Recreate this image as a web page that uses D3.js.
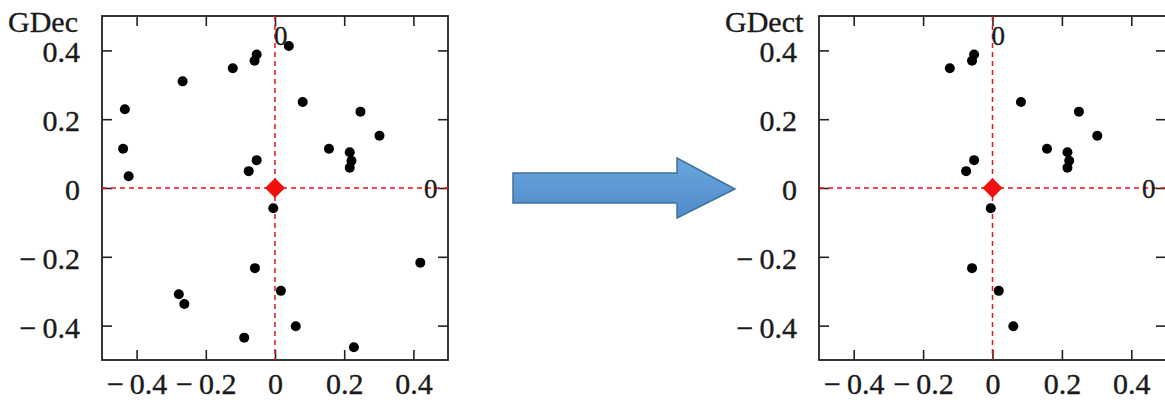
<!DOCTYPE html>
<html>
<head>
<meta charset="utf-8">
<script src="https://cdn.jsdelivr.net/npm/d3@7"></script>
<style>
  body { margin: 0; background: #fff; }
  text { font-family: "Liberation Serif", "Times New Roman", serif; fill: #1a1a1a; stroke: #1a1a1a; stroke-width: 0.35px; }
</style>
</head>
<body>
<div id="chart"></div>
<script>

// values (x, y)
var gdecX = [0.040, -0.053, -0.059, -0.122, -0.267, 0.080, -0.434, 0.247, 0.302, -0.439, 0.156, 0.216, 0.221, 0.216, -0.053, -0.076, -0.423, -0.005, 0.420, -0.058, 0.017, -0.278, -0.262, 0.060, -0.089, 0.228];
var gdecY = [0.413, 0.388, 0.370, 0.348, 0.310, 0.250, 0.229, 0.222, 0.152, 0.114, 0.114, 0.104, 0.079, 0.059, 0.081, 0.049, 0.034, -0.059, -0.217, -0.233, -0.299, -0.309, -0.337, -0.402, -0.435, -0.463];

var gdectX = [-0.123, -0.053, -0.059, 0.082, 0.249, 0.302, 0.157, 0.216, 0.221, 0.216, -0.053, -0.076, -0.005, -0.059, 0.018, 0.060];
var gdectY = [0.348, 0.388, 0.370, 0.250, 0.222, 0.152, 0.114, 0.104, 0.079, 0.059, 0.081, 0.049, -0.059, -0.233, -0.299, -0.402];

var tickVals = [-0.4, -0.2, 0, 0.2, 0.4];
var centre = [0, 0];

var svg = d3.select("#chart").append("svg")
    .attr("width", 1165)
    .attr("height", 403);

function fmt(d) {
  if (d === 0) return "0";
  return (d < 0 ? "\u2212\u2009" : "") + Math.abs(d).toFixed(1);
}

function makePanel(x1, y1, w, h, title, xs, ys) {
  var g = svg.append("g");
  var x = d3.scaleLinear().domain([-0.5, 0.5]).range([x1, x1 + w]);
  var y = d3.scaleLinear().domain([-0.5, 0.5]).range([y1 + h, y1]);

  // axes, inward ticks
  var bottom = g.append("g").attr("transform", "translate(0," + (y1 + h) + ")")
    .call(d3.axisBottom(x).tickValues(tickVals).tickSize(-10).tickPadding(13).tickFormat(fmt));
  g.append("g").attr("transform", "translate(0," + y1 + ")")
    .call(d3.axisTop(x).tickValues(tickVals).tickSize(-10).tickFormat(""));
  var left = g.append("g").attr("transform", "translate(" + x1 + ",0)")
    .call(d3.axisLeft(y).tickValues(tickVals).tickSize(-10).tickPadding(22).tickFormat(fmt));
  g.append("g").attr("transform", "translate(" + (x1 + w) + ",0)")
    .call(d3.axisRight(y).tickValues(tickVals).tickSize(-10).tickFormat(""));

  g.selectAll(".domain").remove();
  g.selectAll(".tick line").attr("stroke", "#222").attr("stroke-width", 1.6);
  g.selectAll(".tick text").attr("font-size", 30).attr("fill", "#1a1a1a")
    .style("font-family", "'Liberation Serif', serif");
  bottom.selectAll(".tick text").attr("dy", "0.71em");
  left.selectAll(".tick text").attr("dy", "0.38em");

  // frame
  g.append("rect")
    .attr("x", x1).attr("y", y1).attr("width", w).attr("height", h)
    .attr("fill", "none").attr("stroke", "#222").attr("stroke-width", 1.8);

  // red dashed zero lines
  g.append("line")
    .attr("x1", x(0)).attr("x2", x(0)).attr("y1", y1).attr("y2", y1 + h)
    .attr("stroke", "#e8141c").attr("stroke-width", 1.5).attr("stroke-dasharray", "5,4");
  g.append("line")
    .attr("x1", x1).attr("x2", x1 + w).attr("y1", y(0)).attr("y2", y(0))
    .attr("stroke", "#e8141c").attr("stroke-width", 1.5).attr("stroke-dasharray", "5,4");

  g.append("text").attr("x", x(0) - 1).attr("y", y1 + 29)
    .attr("font-size", 27).text("0");
  g.append("text").attr("x", x(0.45)).attr("y", y(0) + 10)
    .attr("font-size", 27).attr("text-anchor", "middle").text("0");

  // points
  g.selectAll("circle.pt").data(d3.range(xs.length)).enter()
    .append("circle").attr("class", "pt")
    .attr("cx", function(i) { return x(xs[i]); })
    .attr("cy", function(i) { return y(ys[i]); })
    .attr("r", 5)
    .attr("fill", "#000");

  // centre diamond
  g.append("path")
    .attr("d", d3.symbol().type(d3.symbolSquare).size(200))
    .attr("transform", "translate(" + x(centre[0]) + "," + y(centre[1]) + ") rotate(45)")
    .attr("fill", "#f01010");

  g.append("text").attr("x", x1 - 94).attr("y", y1 + 16)
    .attr("font-size", 30).text(title);
}

makePanel(102, 16, 346, 344, "GDec", gdecX, gdecY);
makePanel(819, 16, 347, 344, "GDect", gdectX, gdectY);

// arrow between the panels
var grad = svg.append("defs").append("linearGradient")
  .attr("id", "arrowfill").attr("x1", 0).attr("y1", 0).attr("x2", 0).attr("y2", 1);
grad.append("stop").attr("offset", "0%").attr("stop-color", "#6aa6de");
grad.append("stop").attr("offset", "100%").attr("stop-color", "#4f8bc8");

var ap = d3.path();
ap.moveTo(513, 173);
ap.lineTo(677, 173);
ap.lineTo(677, 158);
ap.lineTo(735, 189);
ap.lineTo(677, 218);
ap.lineTo(677, 203);
ap.lineTo(513, 203);
ap.closePath();
svg.append("path").attr("d", ap.toString())
  .attr("fill", "url(#arrowfill)")
  .attr("stroke", "#41719c").attr("stroke-width", 1.5);

</script>
</body>
</html>
